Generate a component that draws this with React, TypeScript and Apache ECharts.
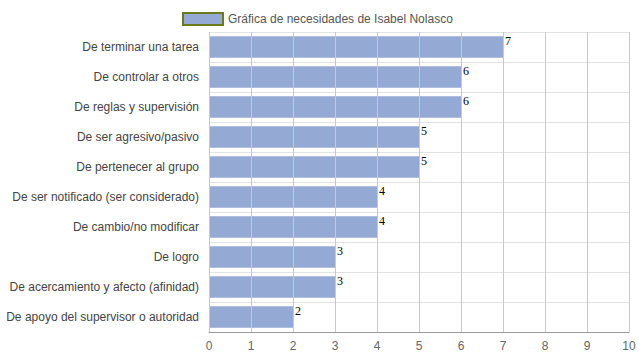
import React, { useEffect, useRef } from "react";
import * as echarts from "echarts";

const categories = [
  "De terminar una tarea",
  "De controlar a otros",
  "De reglas y supervisión",
  "De ser agresivo/pasivo",
  "De pertenecer al grupo",
  "De ser notificado (ser considerado)",
  "De cambio/no modificar",
  "De logro",
  "De acercamiento y afecto (afinidad)",
  "De apoyo del supervisor o autoridad",
];
const values = [7, 6, 6, 5, 5, 4, 4, 3, 3, 2];
const seriesName = "Gráfica de necesidades de Isabel Nolasco";

export default function App() {
  const ref = useRef<HTMLDivElement>(null);
  useEffect(() => {
    const chart = echarts.init(ref.current!, null, { renderer: "svg" });
    chart.setOption({
      animation: false,
      textStyle: { fontFamily: "Liberation Sans, Arial, sans-serif" },
      legend: {
        top: 7,
        left: 177,
        itemWidth: 40,
        itemHeight: 12,
        itemGap: 6,
        textStyle: { color: "#555", fontSize: 12 },
        data: [
          {
            name: seriesName,
            icon: "rect",
            itemStyle: { color: "#95a9d5", borderColor: "#6b7a1c", borderWidth: 2 },
          },
        ],
      },
      grid: { left: 209, right: 10, top: 32, bottom: 28, containLabel: false },
      xAxis: {
        type: "value",
        min: 0,
        max: 10,
        interval: 1,
        axisLine: { show: true, lineStyle: { color: "#999" } },
        axisTick: { show: false },
        axisLabel: { color: "#666", fontSize: 12, margin: 8 },
        splitLine: { show: true, lineStyle: { color: "#c8c8c8" } },
      },
      yAxis: {
        type: "category",
        inverse: true,
        data: categories,
        axisLine: { show: false },
        axisTick: { show: false },
        axisLabel: { color: "#444", fontSize: 12, margin: 10 },
        splitLine: { show: true, lineStyle: { color: "#e2e2e2" } },
      },
      series: [
        {
          name: seriesName,
          type: "bar",
          z: -1,
          data: values,
          barCategoryGap: "28%",
          itemStyle: { color: "#95a9d5" },
          label: {
            show: true,
            position: "right",
            distance: 2,
            offset: [0, -6],
            color: "#000",
            fontFamily: "Liberation Serif, Times New Roman, serif",
            fontSize: 12,
          },
        },
      ],
    });
    return () => chart.dispose();
  }, []);
  return <div ref={ref} style={{ width: 639, height: 360, position: "absolute", left: 0, top: 0 }} />;
}
